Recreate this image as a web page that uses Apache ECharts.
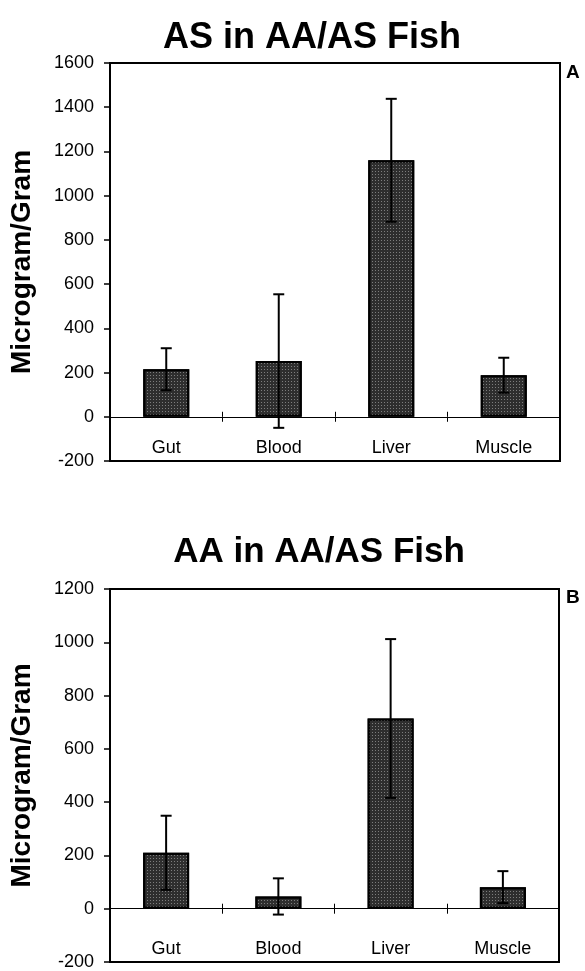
<!DOCTYPE html>
<html>
<head>
<meta charset="utf-8">
<script src="https://cdn.jsdelivr.net/npm/echarts@6/dist/echarts.min.js"></script>
<style>
  html, body { margin: 0; padding: 0; background: #fff; }
  #chart { width: 585px; height: 971px; }
</style>
</head>
<body>
<div id="chart"></div>
<script>
// Tissue categories and measured concentrations (mean ± error)
const tissues = ['Gut', 'Blood', 'Liver', 'Muscle'];

const asMean = [215, 252, 1160, 188];
const asErr  = [95, 302, 278, 79];

const aaMean = [210, 46, 714, 81];
const aaErr  = [139, 68, 298, 60];

// Y axis ranges
const asAxis = { min: -200, max: 1600, interval: 200 };
const aaAxis = { min: -200, max: 1200, interval: 200 };

const FONT = "'Liberation Sans', Arial, Helvetica, sans-serif";

function errorSeries(gridIdx, means, errs) {
  return {
    type: 'custom',
    xAxisIndex: gridIdx * 2,
    yAxisIndex: gridIdx,
    z: 5,
    data: means.map((m, i) => [i, m - errs[i], m + errs[i]]),
    renderItem: function (params, api) {
      const x = api.value(0);
      const lo = api.coord([x, api.value(1)]);
      const hi = api.coord([x, api.value(2)]);
      const half = 5.5;
      const style = { stroke: '#000', lineWidth: 2 };
      return {
        type: 'group',
        children: [
          { type: 'line', shape: { x1: hi[0], y1: hi[1], x2: lo[0], y2: lo[1] }, style: style },
          { type: 'line', shape: { x1: hi[0] - half, y1: hi[1], x2: hi[0] + half, y2: hi[1] }, style: style },
          { type: 'line', shape: { x1: lo[0] - half, y1: lo[1], x2: lo[0] + half, y2: lo[1] }, style: style }
        ]
      };
    }
  };
}

function barSeries(gridIdx, means) {
  return {
    type: 'bar',
    xAxisIndex: gridIdx * 2,
    yAxisIndex: gridIdx,
    data: means,
    barWidth: 46,
    itemStyle: {
      color: '#2e2e2e',
      borderColor: '#000',
      borderWidth: 2,
      decal: {
        symbol: 'rect',
        symbolSize: 1,
        color: 'rgba(255,255,255,0.38)',
        dashArrayX: [1, 2],
        dashArrayY: [1, 2],
        rotation: 0
      }
    }
  };
}

function xAxes(gridIdx) {
  return [
    {
      type: 'category',
      gridIndex: gridIdx,
      data: tissues,
      position: 'bottom',
      axisLine: { onZero: true, onZeroAxisIndex: gridIdx, lineStyle: { color: '#000', width: 1 } },
      axisTick: { show: true, interval: 0, length: 5, lineStyle: { color: '#000', width: 1 } },
      axisLabel: { margin: -22, fontSize: 18, color: '#000', fontFamily: FONT, interval: 0 },
      splitLine: { show: false }
    },
    {
      // upward half of the category separator ticks on the zero line
      type: 'category',
      gridIndex: gridIdx,
      data: tissues,
      position: 'top',
      axisLine: { show: true, onZero: true, onZeroAxisIndex: gridIdx, lineStyle: { color: 'rgba(0,0,0,0)', width: 0 } },
      axisTick: { show: true, inside: false, interval: 0, length: 5, lineStyle: { color: '#000', width: 1 } },
      axisLabel: { show: false },
      splitLine: { show: false }
    }
  ];
}

function yAxis(gridIdx, range) {
  return {
    type: 'value',
    gridIndex: gridIdx,
    min: range.min,
    max: range.max,
    interval: range.interval,
    name: 'Microgram/Gram',
    nameLocation: 'middle',
    nameRotate: 90,
    nameGap: 74,
    nameTextStyle: { fontSize: 28, fontWeight: 'bold', color: '#000', fontFamily: FONT },
    axisLine: { show: true, lineStyle: { color: '#000', width: 2 } },
    axisTick: { show: true, length: 6, lineStyle: { color: '#000', width: 1.5 } },
    axisLabel: { margin: 16, fontSize: 18, color: '#000', fontFamily: FONT, formatter: v => String(v) },
    splitLine: { show: false }
  };
}

const chart = echarts.init(document.getElementById('chart'), null, { renderer: 'canvas' });

chart.setOption({
  backgroundColor: '#fff',
  animation: false,
  grid: [
    { left: 110, right: 25, top: 63, height: 398, show: true, borderColor: '#000', borderWidth: 2, backgroundColor: 'transparent' },
    { left: 110, right: 26, top: 589, height: 377, show: true, borderColor: '#000', borderWidth: 2, backgroundColor: 'transparent' }
  ],
  xAxis: [].concat(xAxes(0), xAxes(1)),
  yAxis: [yAxis(0, asAxis), yAxis(1, aaAxis)],
  series: [
    barSeries(0, asMean),
    errorSeries(0, asMean, asErr),
    barSeries(1, aaMean),
    errorSeries(1, aaMean, aaErr)
  ],
  graphic: [
    { type: 'text', x: 312, y: 38, style: { text: 'AS in AA/AS Fish', font: 'bold 36px ' + FONT, fill: '#000', align: 'center', verticalAlign: 'middle' } },
    { type: 'text', x: 319, y: 552, style: { text: 'AA in AA/AS Fish', font: 'bold 35px ' + FONT, fill: '#000', align: 'center', verticalAlign: 'middle' } },
    { type: 'text', x: 566, y: 73, style: { text: 'A', font: 'bold 19px ' + FONT, fill: '#000', align: 'left', verticalAlign: 'middle' } },
    { type: 'text', x: 566, y: 598, style: { text: 'B', font: 'bold 19px ' + FONT, fill: '#000', align: 'left', verticalAlign: 'middle' } }
  ]
});
</script>
</body>
</html>
